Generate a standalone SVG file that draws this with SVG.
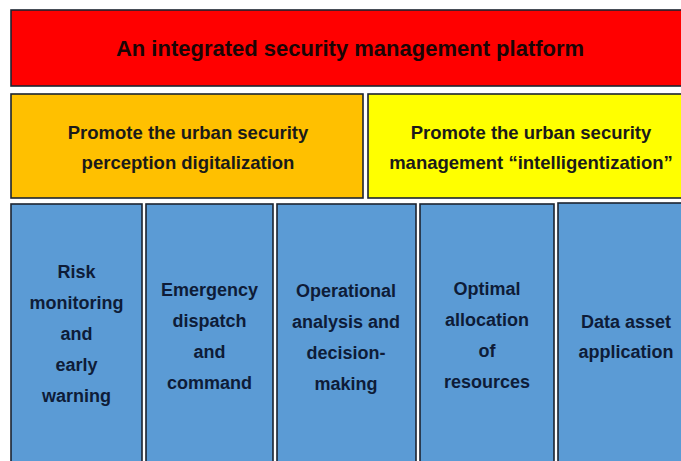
<svg xmlns="http://www.w3.org/2000/svg" width="681" height="461" viewBox="0 0 681 461">
<style>
  .box { stroke: #1c2430; stroke-width: 1.6; }
  .t { font-family: "Liberation Sans", Arial, sans-serif; font-weight: bold; text-anchor: middle; }
  .title { font-size: 22px; fill: #1a0505; }
  .sub { font-size: 18.5px; fill: #1a1a1a; }
  .blue { font-size: 18px; fill: #0e1c38; }
</style>
<rect width="681" height="461" fill="#ffffff"/>
<g id="platform">
  <rect class="box" x="11" y="10" width="685" height="76" fill="#ff0000"/>
  <text class="t title" x="350" y="56">An integrated security management platform</text>
</g>
<g id="digitalization">
  <rect class="box" x="11" y="94" width="352" height="104" fill="#ffc000"/>
  <text class="t sub" x="188" y="139">Promote the urban security</text>
  <text class="t sub" x="188" y="169">perception digitalization</text>
</g>
<g id="intelligentization">
  <rect class="box" x="368" y="94" width="330" height="104" fill="#ffff00"/>
  <text class="t sub" x="531" y="139">Promote the urban security</text>
  <text class="t sub" x="531" y="169">management “intelligentization”</text>
</g>
<g id="risk">
  <rect class="box" x="11" y="204" width="131" height="270" fill="#5b9bd5"/>
  <text class="t blue" x="76.5" y="278">Risk</text>
  <text class="t blue" x="76.5" y="309">monitoring</text>
  <text class="t blue" x="76.5" y="340">and</text>
  <text class="t blue" x="76.5" y="371">early</text>
  <text class="t blue" x="76.5" y="402">warning</text>
</g>
<g id="emergency">
  <rect class="box" x="146" y="204" width="127" height="270" fill="#5b9bd5"/>
  <text class="t blue" x="209.5" y="296">Emergency</text>
  <text class="t blue" x="209.5" y="327">dispatch</text>
  <text class="t blue" x="209.5" y="358">and</text>
  <text class="t blue" x="209.5" y="389">command</text>
</g>
<g id="operational">
  <rect class="box" x="277" y="204" width="139" height="270" fill="#5b9bd5"/>
  <text class="t blue" x="346" y="297">Operational</text>
  <text class="t blue" x="346" y="328">analysis and</text>
  <text class="t blue" x="346" y="359">decision-</text>
  <text class="t blue" x="346" y="390">making</text>
</g>
<g id="allocation">
  <rect class="box" x="420" y="204" width="134" height="270" fill="#5b9bd5"/>
  <text class="t blue" x="487" y="295">Optimal</text>
  <text class="t blue" x="487" y="326">allocation</text>
  <text class="t blue" x="487" y="357">of</text>
  <text class="t blue" x="487" y="388">resources</text>
</g>
<g id="data-asset">
  <rect class="box" x="558" y="203" width="140" height="270" fill="#5b9bd5"/>
  <text class="t blue" x="626" y="328">Data asset</text>
  <text class="t blue" x="626" y="358">application</text>
</g>
<g id="connectors"></g>
</svg>
